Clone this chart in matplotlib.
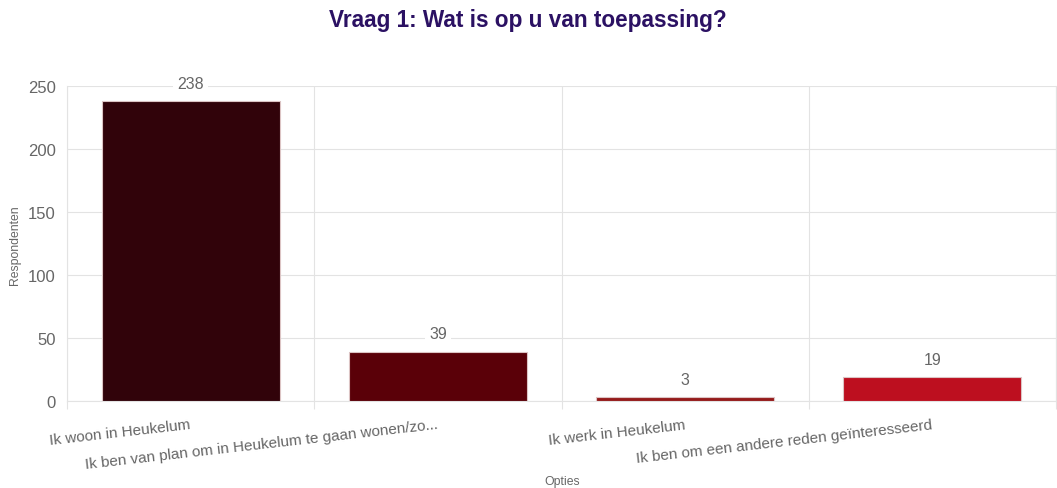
import matplotlib
matplotlib.use("Agg")
import matplotlib.pyplot as plt
import numpy as np

categories = ["Ik woon in Heukelum",
              "Ik ben van plan om in Heukelum te gaan wonen/zo...",
              "Ik werk in Heukelum",
              "Ik ben om een andere reden geïnteresseerd"]
values = [238, 39, 3, 19]
colors = ["#31030a", "#5a0008", "#951a1a", "#bd0f1f"]
yticks = [0, 50, 100, 150, 200, 250]

plt.rcParams['font.family'] = ['Liberation Sans', 'DejaVu Sans']

W, H = 1057, 489
fig = plt.figure(figsize=(W/100, H/100), dpi=100)
left, right, top, bottom = 67, 1056, 87, 402
ax = fig.add_axes([left/W, (H-bottom)/H, (right-left)/W, (bottom-top)/H])

x = np.arange(len(categories))
ax.bar(x, values, width=0.72, color=colors, edgecolor="#dcc4c4", linewidth=0.8, zorder=3)
ax.set_xlim(-0.5, len(categories)-0.5)
ax.set_ylim(0, 250)
ax.set_yticks(yticks)
ax.set_yticklabels([str(v) for v in yticks], fontsize=12, color="#666666")

ax.set_xticks(np.arange(len(categories)+1) - 0.5, minor=True)
ax.set_xticks(x)
ax.set_xticklabels(categories, rotation=6.5, ha='right', va='center',
                   rotation_mode='anchor', fontsize=11, color="#666666")
ax.tick_params(axis='x', which='major', length=0, pad=23*0.72)
ax.tick_params(axis='x', which='minor', length=8*0.72, color="#e3e3e3", width=0.8)
ax.tick_params(axis='y', length=0, pad=8)

ax.grid(True, axis='y', color="#e3e3e3", linewidth=0.8, zorder=0)
ax.grid(True, axis='x', which='minor', color="#e3e3e3", linewidth=0.8, zorder=0)
for s in ax.spines.values():
    s.set_color("#e3e3e3")
    s.set_linewidth(0.8)
ax.spines['top'].set_visible(False)

for xi, v in zip(x, values):
    ax.annotate(str(v), (xi, v), xytext=(0, 13), textcoords='offset points',
                ha='center', va='center', fontsize=11.5, color="#666666", zorder=4,
                bbox=dict(boxstyle='square,pad=0.25', fc='white', ec='none'))

fig.text(528/W, 1 - 20/H, "Vraag 1: Wat is op u van toepassing?", ha='center', va='center',
         fontsize=16.3, fontweight='bold', color="#2b1163")
fig.text(15/W, 1 - 245/H, "Respondenten", rotation=90, ha='center', va='center',
         fontsize=8.8, color="#666666")
fig.text(562/W, 1 - 482/H, "Opties", ha='center', va='center', fontsize=8.8, color="#666666")

fig.savefig("out.png", dpi=100)
